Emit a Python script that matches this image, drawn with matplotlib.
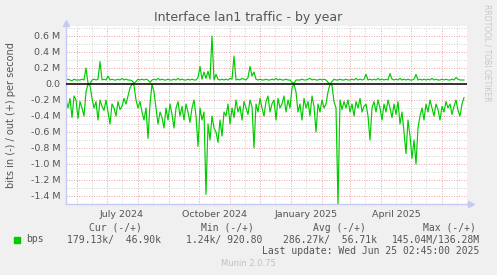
import matplotlib
matplotlib.use("Agg")
import matplotlib.pyplot as plt
import matplotlib.dates as mdates
from matplotlib.patches import Rectangle
import datetime as dt

# daily-ish samples (every 2 days), values in Mbit/s
start = dt.datetime(2024, 5, 21)
out_bps = [0.05,0.06,0.05,0.04,0.06,0.05,0.05,0.05,0.06,0.05,
           0.20,0.01,0.00,0.05,0.06,0.05,0.06,0.28,0.05,0.06,
           0.05,0.10,0.05,0.06,0.05,0.05,0.06,0.05,0.07,0.05,
           0.06,0.05,0.05,0.04,0.01,0.03,0.06,0.05,0.06,0.05,
           0.06,0.05,0.02,0.05,0.06,0.05,0.07,0.05,0.06,0.05,
           0.05,0.06,0.05,0.05,0.06,0.05,0.07,0.05,0.06,0.05,
           0.05,0.06,0.05,0.06,0.05,0.05,0.08,0.22,0.06,0.15,
           0.07,0.16,0.06,0.60,0.05,0.12,0.06,0.05,0.06,0.05,
           0.06,0.05,0.07,0.06,0.35,0.05,0.06,0.05,0.07,0.06,
           0.05,0.08,0.22,0.10,0.15,0.06,0.05,0.06,0.05,0.05,
           0.06,0.05,0.05,0.06,0.05,0.07,0.05,0.06,0.05,0.05,
           0.06,0.05,0.05,0.02,0.01,0.05,0.05,0.05,0.06,0.05,
           0.05,0.06,0.07,0.05,0.06,0.05,0.05,0.06,0.05,0.06,
           0.05,0.02,0.00,0.03,0.06,0.05,0.05,0.06,0.05,0.05,
           0.06,0.05,0.05,0.06,0.05,0.07,0.05,0.06,0.05,0.06,
           0.12,0.05,0.06,0.05,0.06,0.05,0.07,0.05,0.06,0.05,
           0.06,0.05,0.13,0.06,0.05,0.06,0.05,0.07,0.05,0.06,
           0.05,0.06,0.05,0.05,0.06,0.12,0.05,0.06,0.05,0.06,
           0.05,0.06,0.05,0.07,0.05,0.06,0.05,0.05,0.06,0.05,
           0.06,0.05,0.05,0.06,0.05,0.08,0.06,0.05,0.05,0.05]
in_bps = [-0.20,-0.30,-0.18,-0.42,-0.15,-0.20,-0.43,-0.22,-0.30,-0.40,
          -0.10,0.00,-0.02,-0.18,-0.30,-0.22,-0.45,-0.20,-0.28,-0.33,
          -0.20,-0.35,-0.50,-0.25,-0.30,-0.40,-0.22,-0.32,-0.28,-0.18,
          -0.25,-0.15,-0.05,0.00,-0.02,-0.20,-0.30,-0.22,-0.35,-0.45,
          -0.30,-0.68,-0.25,0.00,-0.10,-0.30,-0.50,-0.35,-0.42,-0.55,
          -0.30,-0.45,-0.25,-0.38,-0.55,-0.30,-0.22,-0.40,-0.28,-0.45,
          -0.25,-0.35,-0.48,-0.30,-0.20,-0.40,-0.78,-0.30,-0.45,-0.35,
          -1.38,-0.50,-0.70,-0.40,-0.55,-0.60,-0.73,-0.45,-0.65,-0.35,
          -0.40,-0.25,-0.50,-0.30,-0.42,-0.20,-0.35,-0.28,-0.45,-0.22,
          -0.30,-0.38,-0.20,-0.28,-0.80,-0.25,-0.35,-0.18,-0.30,-0.40,
          -0.22,-0.15,-0.35,-0.25,-0.20,-0.45,-0.18,-0.30,-0.25,-0.15,
          -0.35,-0.20,-0.30,-0.05,0.00,-0.10,-0.35,-0.25,-0.45,-0.18,
          -0.30,-0.22,-0.40,-0.15,-0.28,-0.60,-0.25,-0.35,-0.20,-0.30,
          -0.25,-0.10,0.00,-0.02,-0.22,-0.30,-1.50,-0.20,-0.32,-0.22,
          -0.30,-0.20,-0.35,-0.25,-0.40,-0.22,-0.30,-0.18,-0.35,-0.28,
          -0.25,-0.40,-0.70,-0.30,-0.22,-0.35,-0.20,-0.30,-0.45,-0.25,
          -0.35,-0.20,-0.30,-0.42,-0.25,-0.38,-0.22,-0.50,-0.35,-0.60,
          -0.87,-0.45,-0.65,-0.93,-0.70,-1.00,-0.55,-0.40,-0.30,-0.45,
          -0.25,-0.35,-0.20,-0.30,-0.40,-0.25,-0.32,-0.45,-0.28,-0.35,
          -0.22,-0.30,-0.25,-0.38,-0.28,-0.20,-0.33,-0.40,-0.25,-0.17]
dates = [start + dt.timedelta(days=2 * i) for i in range(len(out_bps))]

y_ticks = [0.6, 0.4, 0.2, 0.0, -0.2, -0.4, -0.6, -0.8, -1.0, -1.2, -1.4]
month_labels = {7: "July 2024", 10: "October 2024", 1: "January 2025", 4: "April 2025"}
legend_head = ["Cur (-/+)", "Min (-/+)", "Avg (-/+)", "Max (-/+)"]
legend_vals = ["179.13k/  46.90k", "1.24k/ 920.80", "286.27k/  56.71k", "145.04M/136.28M"]

W, H = 497, 275
def fx(x): return x / W
def fy(y): return 1 - y / H

txt = "#555555"
green = "#00CC00"
axis_col = "#C8C8F4"

fig = plt.figure(figsize=(W / 100, H / 100), dpi=100, facecolor="#F0F0F0")
ax = fig.add_axes([fx(66), fy(203.5), (467 - 66) / W, (203.5 - 26) / H])
ax.set_facecolor("white")

ax.plot(dates, out_bps, color=green, lw=0.85)
ax.plot(dates, in_bps, color=green, lw=0.85)
ax.axhline(0, color="black", lw=1.1, zorder=3)

ax.set_xlim(start, start + dt.timedelta(days=401))
ax.set_ylim(-1.494, 0.725)

# grid: red dotted major, grey dotted minor
ax.xaxis.set_major_locator(mdates.MonthLocator(bymonthday=1))
ax.xaxis.set_minor_locator(mdates.MonthLocator(bymonthday=16))
ax.xaxis.set_major_formatter(plt.NullFormatter())
ax.xaxis.set_minor_formatter(plt.FuncFormatter(
    lambda v, p: month_labels.get(mdates.num2date(v).month, "")))
ax.set_yticks(y_ticks)
ax.set_yticklabels(["0.0" if v == 0 else "%.1f M" % v for v in y_ticks])
ax.set_yticks([0.7, 0.5, 0.3, 0.1, -0.1, -0.3, -0.5, -0.7, -0.9, -1.1, -1.3], minor=True)

dots = (0, (1, 1.5))
ax.grid(which="major", color="#EBA8A8", lw=0.72, linestyle=dots)
ax.grid(which="minor", color="#D4D4D4", lw=0.72, linestyle=dots)
ax.set_axisbelow(True)

ax.tick_params(which="both", length=0, colors=txt, labelsize=6.8)
ax.tick_params(axis="y", pad=4)
ax.tick_params(axis="x", which="minor", pad=5)

for s in ["top", "right"]:
    ax.spines[s].set_visible(False)
for s in ["left", "bottom"]:
    ax.spines[s].set_color(axis_col)
    ax.spines[s].set_linewidth(1)
ax.plot([0], [1.015], marker="^", color=axis_col, ms=4, transform=ax.transAxes, clip_on=False)
ax.plot([1.01], [0], marker=">", color=axis_col, ms=4, transform=ax.transAxes, clip_on=False)

ax.set_ylabel("bits in (-) / out (+) per second", color=txt, fontsize=7, labelpad=11)

fig.text(0.5, fy(18), "Interface lan1 traffic - by year", ha="center", va="center",
         color=txt, fontsize=9)
fig.text(fx(487), fy(53), "RRDTOOL / TOBI OETIKER", rotation=270, ha="center", va="center",
         color="#C8C8C8", fontsize=5.5)

# legend block
mono = "DejaVu Sans Mono"
fig.patches.append(Rectangle((fx(14), fy(242.5)), 6 / W, 6 / H, color=green,
                             transform=fig.transFigure, figure=fig))
fig.text(fx(26), fy(239.5), "bps", family=mono, fontsize=7, color=txt, va="center")
for x, s in zip([89, 201, 313, 423], legend_head):
    fig.text(fx(x), fy(228), s, family=mono, fontsize=7, color=txt, va="center")
for x, s in zip([67, 186, 283, 392], legend_vals):
    fig.text(fx(x), fy(239.5), s, family=mono, fontsize=7, color=txt, va="center")
fig.text(fx(262), fy(251.5), "Last update: Wed Jun 25 02:45:00 2025", family=mono,
         fontsize=7, color=txt, va="center")
fig.text(fx(248), fy(264), "Munin 2.0.75", ha="center", va="center",
         color="#C0C0C0", fontsize=6)

fig.savefig("out.png", dpi=100, facecolor=fig.get_facecolor())
